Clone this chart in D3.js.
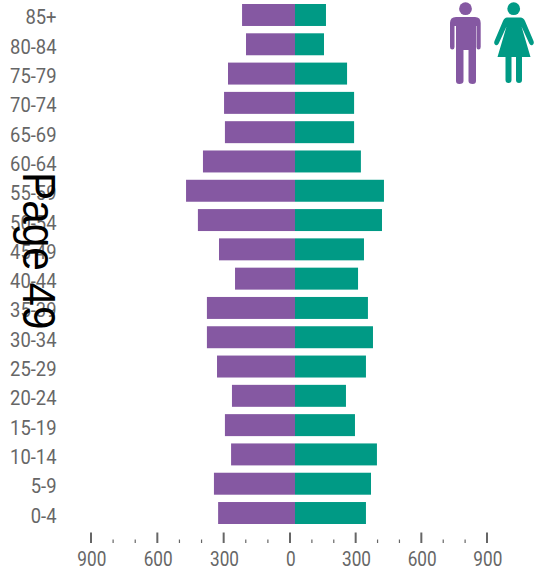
<!DOCTYPE html>
<html>
<head>
<meta charset="utf-8">
<script src="https://cdnjs.cloudflare.com/ajax/libs/d3/7.8.5/d3.min.js"></script>
<style>
  html, body { margin: 0; padding: 0; background: #fff; }
  svg { display: block; }
  .tick-label, .age-label { font-family: Roboto, sans-serif; fill: #666; }
</style>
</head>
<body>
<svg id="chart"></svg>
<script>
const ageGroups = ['85+','80-84','75-79','70-74','65-69','60-64','55-59','50-54','45-49','40-44','35-39','30-34','25-29','20-24','15-19','10-14','5-9','0-4'];
const maleValues = [241,223,305,323,319,419,496,442,346,273,401,401,355,287,319,291,369,350];
const femaleValues = [141,132,237,269,269,300,405,396,314,287,332,355,323,232,273,373,346,323];
const majorTicks = [0,300,600,900];
const minorTicks = [100,200,400,500,700,800];

const width = 536, height = 568;
const purple = '#8558a2', green = '#009a85', grey = '#666';
// no condensed font installed, so squeeze Roboto sideways
const squeeze = 0.86;

const svg = d3.select('#chart').attr('width', width).attr('height', height);

// bars sit on their own centre line, the axes are a few px left of it
const xMale = d3.scaleLinear().domain([0, 900]).range([295, 295 - 197.7]);
const xFemale = d3.scaleLinear().domain([0, 900]).range([295, 295 + 197.7]);
const y = d3.scaleBand().domain(ageGroups).range([0.34, 527.66]).paddingInner(0.25).paddingOuter(0.125);

svg.selectAll('.male').data(maleValues).join('rect')
  .attr('class', 'male')
  .attr('x', d => xMale(d))
  .attr('y', (d, i) => y(ageGroups[i]))
  .attr('width', d => xMale(0) - xMale(d))
  .attr('height', y.bandwidth())
  .attr('fill', purple);

svg.selectAll('.female').data(femaleValues).join('rect')
  .attr('class', 'female')
  .attr('x', xFemale(0))
  .attr('y', (d, i) => y(ageGroups[i]))
  .attr('width', d => xFemale(d) - xFemale(0))
  .attr('height', y.bandwidth())
  .attr('fill', green);

svg.selectAll('.age-label').data(ageGroups).join('text')
  .attr('class', 'age-label')
  .attr('transform', d => `translate(56.5,${y(d) + y.bandwidth() / 2 + 9.5}) scale(0.92,1)`)
  .attr('text-anchor', 'end')
  .attr('font-size', 20)
  .text(d => d);

// axes
const axisLeft = d3.scaleLinear().domain([900, 0]).range([91, 290]);
const axisRight = d3.scaleLinear().domain([0, 900]).range([290, 487]);
const axisY = 543;

function drawAxis(scale, majors) {
  const g = svg.append('g');
  g.selectAll('.major').data(majors).join('line')
    .attr('x1', d => scale(d)).attr('x2', d => scale(d))
    .attr('y1', axisY - 10.5).attr('y2', axisY)
    .attr('stroke', grey).attr('stroke-width', 2);
  g.selectAll('.minor').data(minorTicks).join('line')
    .attr('x1', d => scale(d)).attr('x2', d => scale(d))
    .attr('y1', axisY - 3.5).attr('y2', axisY)
    .attr('stroke', grey).attr('stroke-width', 1.2);
  g.selectAll('.tick-label').data(majors).join('text')
    .attr('class', 'tick-label')
    .attr('transform', d => `translate(${scale(d) + 0.8},566) scale(${squeeze},1)`)
    .attr('text-anchor', 'middle')
    .attr('font-size', 20)
    .text(d => d);
}
drawAxis(axisLeft, majorTicks);
// the 0 is shared, only draw it once
drawAxis(axisRight, majorTicks.filter(d => d > 0));

// page stamp on top of the labels
svg.append('text')
  .attr('transform', 'translate(22.5,172) rotate(90) scale(0.92,1)')
  .attr('font-family', '"Liberation Sans", sans-serif')
  .attr('font-size', 46)
  .attr('fill', '#000')
  .text('Page 49');

// icons
const man = svg.append('g').attr('fill', purple);
man.append('circle').attr('cx', 465.5).attr('cy', 8.7).attr('r', 6.4);
man.append('path').attr('d', 'M456 17 H475 Q480.7 17 480.7 23 V47 Q480.7 49.5 478.5 49.5 Q476.5 49.5 476.5 47 V26 H476 V81 Q476 84 472.7 84 Q468.5 84 468.5 81 V50 H463.5 V81 Q463.5 84 459.3 84 Q456 84 456 81 V26 H454.5 V47 Q454.5 49.5 452.3 49.5 Q450 49.5 450 47 V23 Q450 17 456 17 Z');

const woman = svg.append('g').attr('fill', green);
woman.append('circle').attr('cx', 513.7).attr('cy', 8.7).attr('r', 6.4);
woman.append('path').attr('d', 'M507 17.5 H520.5 Q523.5 17.5 525 21 L533.5 41 Q534.5 44 532.5 45 Q530.5 46 529.3 43.5 L521.5 26.5 L530.5 57 H522 V80 Q522 83 519 83 Q516 83 516 80 V57 H511.5 V80 Q511.5 83 508.5 83 Q505.5 83 505.5 80 V57 H497.5 L506.5 26.5 L498.7 43.5 Q497.5 46 495.5 45 Q493.5 44 494.5 41 L503 21 Q504.5 17.5 507 17.5 Z');
</script>
</body>
</html>
